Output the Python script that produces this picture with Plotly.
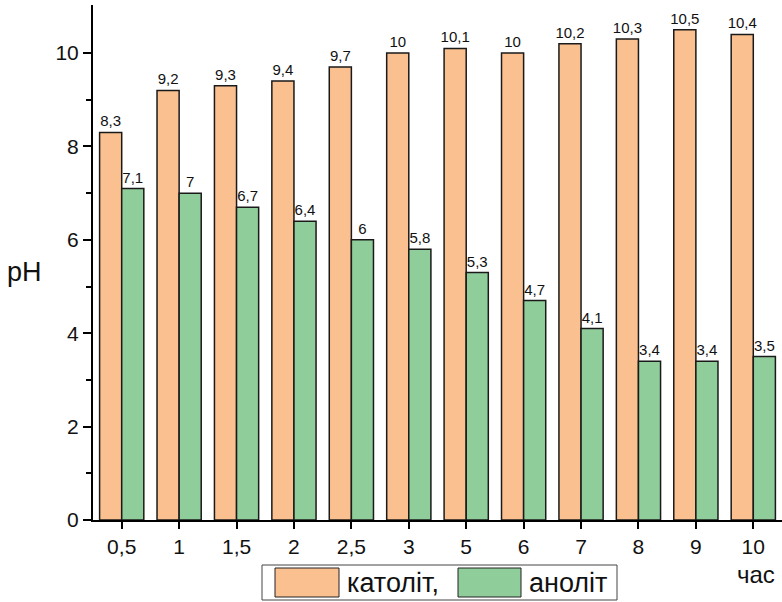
import plotly.graph_objects as go

categories = ["0,5", "1", "1,5", "2", "2,5", "3", "5", "6", "7", "8", "9", "10"]
katolit = [8.3, 9.2, 9.3, 9.4, 9.7, 10, 10.1, 10, 10.2, 10.3, 10.5, 10.4]
anolit = [7.1, 7, 6.7, 6.4, 6, 5.8, 5.3, 4.7, 4.1, 3.4, 3.4, 3.5]
y_ticks = [0, 2, 4, 6, 8, 10]

ORANGE = "#FBC08F"
GREEN = "#8FCE9B"
FONT = "Liberation Sans, Arial, sans-serif"

def lab(v):
    return (f"{v:g}").replace(".", ",")

fig = go.Figure()
fig.add_trace(go.Bar(x=categories, y=katolit, name="католіт,",
                     marker=dict(color=ORANGE, line=dict(color="#1a1a1a", width=1.5)),
                     text=[lab(v) for v in katolit], textposition="outside", constraintext="none",
                     textfont=dict(size=15, color="#111"), cliponaxis=False))
fig.add_trace(go.Bar(x=categories, y=anolit, name="аноліт",
                     marker=dict(color=GREEN, line=dict(color="#1a1a1a", width=1.5)),
                     text=[lab(v) for v in anolit], textposition="outside", constraintext="none",
                     textfont=dict(size=15, color="#111"), cliponaxis=False))

W, H = 782, 602
L, R, T, B = 93, 0, 5, 82
pw, ph = W - L - R, H - T - B

def px(x):
    return (x - L) / pw

def py(y):
    return (H - B - y) / ph

shapes = [
    dict(type="rect", xref="paper", yref="paper", x0=px(262), x1=px(617), y0=py(565), y1=py(600),
         line=dict(color="#444", width=1), fillcolor="white"),
    dict(type="rect", xref="paper", yref="paper", x0=px(275), x1=px(339), y0=py(568), y1=py(597),
         line=dict(color="#222", width=1), fillcolor=ORANGE),
    dict(type="rect", xref="paper", yref="paper", x0=px(458), x1=px(521), y0=py(568), y1=py(597),
         line=dict(color="#222", width=1), fillcolor=GREEN),
]
annotations = [
    dict(text="католіт,", xref="paper", yref="paper", x=px(345), y=py(583), xanchor="left",
         yanchor="middle", showarrow=False, font=dict(size=27, family=FONT, color="#111")),
    dict(text="аноліт", xref="paper", yref="paper", x=px(527), y=py(583), xanchor="left",
         yanchor="middle", showarrow=False, font=dict(size=27, family=FONT, color="#111")),
    dict(text="час", xref="paper", yref="paper", x=px(735), y=py(574), xanchor="left",
         yanchor="middle", showarrow=False, font=dict(size=24, family=FONT, color="#111")),
    dict(text="pH", xref="paper", yref="paper", x=px(24), y=py(272), xanchor="center",
         yanchor="middle", showarrow=False, font=dict(size=27, family=FONT, color="#111")),
]

fig.update_layout(
    width=W, height=H,
    margin=dict(l=L, r=R, t=T, b=B, autoexpand=False),
    plot_bgcolor="white", paper_bgcolor="white",
    barmode="group", bargap=0.23, bargroupgap=0,
    showlegend=False,
    separators=",.",
    font=dict(family=FONT, color="#111"),
    shapes=shapes, annotations=annotations,
    xaxis=dict(type="category", range=[-0.5, 11.5], showline=True, linecolor="black", linewidth=2,
               ticks="outside", ticklen=7, tickwidth=2, tickcolor="black",
               tickfont=dict(size=21, family=FONT, color="#111"),
               minor=dict(ticks="outside", ticklen=4, tickwidth=2, tickcolor="black", dtick=1, tick0=0.5),
               showgrid=False, zeroline=False, automargin=False),
    yaxis=dict(range=[0, 11.03], tickvals=y_ticks, showline=True, linecolor="black", linewidth=2,
               ticks="outside", ticklen=8, tickwidth=2, tickcolor="black",
               tickfont=dict(size=21, family=FONT, color="#111"),
               minor=dict(ticks="outside", ticklen=5, tickwidth=2, tickcolor="black", tickvals=[1, 3, 5, 7, 9]),
               showgrid=False, zeroline=False, automargin=False),
)

fig.write_html("out.html", config={"displayModeBar": False},
               post_script="document.body.style.margin='0px';document.body.style.overflow='hidden';")
